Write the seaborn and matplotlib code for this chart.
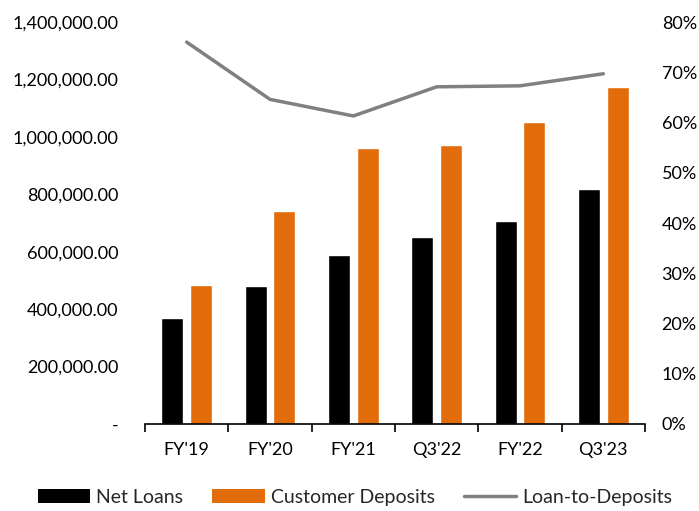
import matplotlib
matplotlib.use("Agg")
import matplotlib.pyplot as plt
import matplotlib.ticker as mticker
from matplotlib.patches import Patch
from matplotlib.lines import Line2D
import seaborn as sns
import pandas as pd
import numpy as np

periods = ["FY'19", "FY'20", "FY'21", "Q3'22", "FY'22", "Q3'23"]
net_loans = [368000, 481000, 589000, 651000, 707000, 818000]
customer_deposits = [484000, 742000, 961000, 972000, 1052000, 1175000]
loan_to_deposits = [76.0, 64.6, 61.3, 67.1, 67.3, 69.7]

sns.set_theme(style="white")
plt.rcParams["font.family"] = ["Lato", "DejaVu Sans"]

BLACK = "#000000"
ORANGE = "#E36C0A"
GREY = "#808080"
FS = 13

df = pd.DataFrame({
    "Period": periods * 2,
    "Series": ["Net Loans"] * len(periods) + ["Customer Deposits"] * len(periods),
    "Value": net_loans + customer_deposits,
})

fig = plt.figure(figsize=(6.99, 5.11), dpi=100)
ax = fig.add_axes([145 / 699, 1 - 424 / 511, 500 / 699, 402 / 511])

sns.barplot(data=df, x="Period", y="Value", hue="Series",
            palette={"Net Loans": BLACK, "Customer Deposits": ORANGE},
            width=0.69, gap=0.23, ax=ax, legend=False, saturation=1)

ax.set_xlim(-0.5, len(periods) - 0.5)
ax.set_ylim(0, 1400000)
ax.set_yticks(np.arange(0, 1400001, 200000))
ax.yaxis.set_major_formatter(mticker.FuncFormatter(
    lambda v, p: "-" if v == 0 else f"{v:,.2f}"))
ax.set_xlabel("")
ax.set_ylabel("")
for s in ["top", "left", "right"]:
    ax.spines[s].set_visible(False)
ax.spines["bottom"].set_color("#000000")
ax.spines["bottom"].set_linewidth(1.2)

# category boundary ticks on the x axis
ax.set_xticks(np.arange(-0.5, len(periods)), minor=True)
ax.tick_params(axis="x", which="minor", length=6, width=1.2, color="#000000", bottom=True)
ax.tick_params(axis="x", which="major", length=0, labelsize=FS, pad=13, colors="#000000")
ax.tick_params(axis="y", length=0, labelsize=FS, pad=19, colors="#000000")

ax2 = ax.twinx()
sns.lineplot(x=np.arange(len(periods)), y=loan_to_deposits, ax=ax2,
             color=GREY, linewidth=2.5)
ax2.set_ylim(0, 80)
ax2.set_yticks(np.arange(0, 81, 10))
ax2.yaxis.set_major_formatter(mticker.FuncFormatter(lambda v, p: f"{v:.0f}%"))
ax2.tick_params(axis="y", length=0, labelsize=FS, pad=12, colors="#000000")
for s in ["top", "left", "right", "bottom"]:
    ax2.spines[s].set_visible(False)
ax2.set_xlim(-0.5, len(periods) - 0.5)

handles = [
    Patch(facecolor=BLACK, edgecolor="none", label="Net Loans"),
    Patch(facecolor=ORANGE, edgecolor="none", label="Customer Deposits"),
    Line2D([0], [0], color=GREY, linewidth=2.5, label="Loan-to-Deposits"),
]
fig.legend(handles=handles, loc="center", bbox_to_anchor=(0.508, 1 - 497 / 511),
           ncol=3, frameon=False, fontsize=14, handlelength=2.7,
           handleheight=0.7, columnspacing=1.5, handletextpad=0.3)

fig.savefig("out.png", dpi=100)
